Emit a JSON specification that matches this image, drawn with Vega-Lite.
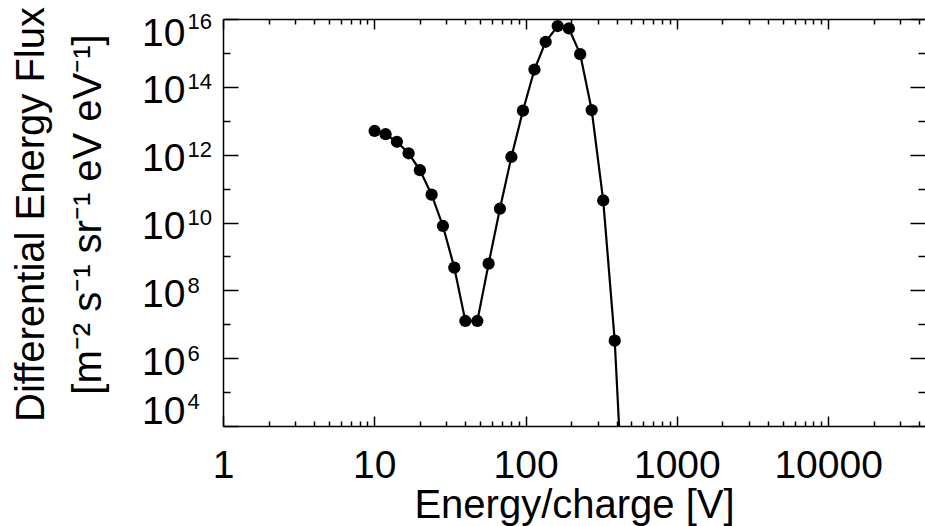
{
  "$schema": "https://vega.github.io/schema/vega-lite/v6.json",
  "autosize": {"type": "none"},
  "padding": {"left": 223, "top": 19, "right": 0, "bottom": 100},
  "width": 702,
  "height": 407,
  "background": "white",
  "config": {
    "view": {"stroke": null},
    "axis": {
      "labelFont": "Liberation Sans",
      "titleFont": "Liberation Sans",
      "labelColor": "black",
      "titleColor": "black",
      "domainColor": "black",
      "tickColor": "black",
      "domainWidth": 1.5,
      "tickWidth": 1.5,
      "grid": false,
      "labelOverlap": false,
      "labelFlush": false,
      "labelBound": false,
      "titleFontWeight": "normal"
    }
  },
  "data": {
    "values": [
      {"E": 10.05, "F": 5.0e12},
      {"E": 11.88, "F": 4.0e12},
      {"E": 14.11, "F": 2.4e12},
      {"E": 16.86, "F": 1.1e12},
      {"E": 20.03, "F": 3.5e11},
      {"E": 23.93, "F": 6.6e10},
      {"E": 28.43, "F": 7.9e9},
      {"E": 33.82, "F": 4.65e8},
      {"E": 39.99, "F": 1.25e7},
      {"E": 48.0, "F": 1.25e7},
      {"E": 57.0, "F": 6.1e8},
      {"E": 67.7, "F": 2.55e10},
      {"E": 80.6, "F": 8.55e11},
      {"E": 96.1, "F": 1.98e13},
      {"E": 114.5, "F": 3.24e14},
      {"E": 135.8, "F": 2.13e15},
      {"E": 163.1, "F": 6.2e15},
      {"E": 193.4, "F": 5.25e15},
      {"E": 229.7, "F": 9.2e14},
      {"E": 273.6, "F": 2.07e13},
      {"E": 326.1, "F": 4.46e10},
      {"E": 388.5, "F": 3.28e6},
      {"E": 462.8, "F": 0.74}
    ]
  },
  "resolve": {"axis": {"x": "independent", "y": "independent"}},
  "layer": [
    {
      "mark": {"type": "line", "color": "black", "strokeWidth": 2.2, "clip": true},
      "encoding": {
        "x": {
          "field": "E", "type": "quantitative",
          "scale": {"type": "log", "domain": [1, 43700], "nice": false, "zero": false},
          "axis": {
            "orient": "bottom",
            "title": "Energy/charge [V]",
            "titleFontSize": 40,
            "titleBaseline": "alphabetic",
            "titleY": 91,
            "values": [1,2,3,4,5,6,7,8,9,10,20,30,40,50,60,70,80,90,100,200,300,400,500,600,700,800,900,1000,2000,3000,4000,5000,6000,7000,8000,9000,10000,20000,30000,40000],
            "labelExpr": "abs(log(datum.value)/LN10 - round(log(datum.value)/LN10)) < 0.001 ? '' + round(datum.value) : ''",
            "labelFontSize": 39,
            "labelPadding": 30,
            "tickSize": {"condition": {"test": "abs(log(datum.value)/LN10 - round(log(datum.value)/LN10)) < 0.001", "value": -10}, "value": -5},
            "domain": true
          }
        },
        "y": {
          "field": "F", "type": "quantitative",
          "scale": {"type": "log", "domain": [1e4, 1e16], "nice": false, "zero": false},
          "axis": {
            "orient": "left",
            "title": ["Differential Energy Flux", "[m⁻² s⁻¹ sr⁻¹ eV eV⁻¹]"],
            "titleFontSize": 40,
            "titleLineHeight": 57,
            "titleAngle": -90,
            "titleBaseline": "alphabetic",
            "titleAlign": "center",
            "titleX": -180,
            "titleY": 195,
            "values": [1e4,1e5,1e6,1e7,1e8,1e9,1e10,1e11,1e12,1e13,1e14,1e15,1e16],
            "labelExpr": "round(log(datum.value)/LN10) % 2 == 0 ? '10' : ''",
            "labelFontSize": 39,
            "labelAlign": "right",
            "labelBaseline": "middle",
            "labelPadding": 53,
            "labelOffset": {"condition": [{"test": "datum.value >= 1e15", "value": 14}, {"test": "datum.value <= 1e5", "value": -15}], "value": 4},
            "tickSize": {"condition": {"test": "round(log(datum.value)/LN10) % 2 == 0", "value": -15}, "value": -7},
            "domain": true
          }
        }
      }
    },
    {
      "mark": {"type": "circle", "color": "black", "size": 150, "opacity": 1, "clip": true},
      "encoding": {
        "x": {
          "field": "E", "type": "quantitative",
          "scale": {"type": "log", "domain": [1, 43700], "nice": false, "zero": false},
          "axis": {
            "orient": "top",
            "title": null,
            "labels": false,
            "values": [1,2,3,4,5,6,7,8,9,10,20,30,40,50,60,70,80,90,100,200,300,400,500,600,700,800,900,1000,2000,3000,4000,5000,6000,7000,8000,9000,10000,20000,30000,40000],
            "tickSize": {"condition": {"test": "abs(log(datum.value)/LN10 - round(log(datum.value)/LN10)) < 0.001", "value": -10}, "value": -5},
            "domain": true
          }
        },
        "y": {
          "field": "F", "type": "quantitative",
          "scale": {"type": "log", "domain": [1e4, 1e16], "nice": false, "zero": false},
          "axis": {
            "orient": "left",
            "title": null,
            "values": [1e4,1e6,1e8,1e10,1e12,1e14,1e16],
            "labelExpr": "'' + round(log(datum.value)/LN10)",
            "labelFontSize": 22,
            "labelAlign": "left",
            "labelBaseline": "middle",
            "labelPadding": 36,
            "labelOffset": {"condition": [{"test": "datum.value >= 1e15", "value": 2}, {"test": "datum.value <= 1e5", "value": -25}], "value": -5},
            "ticks": false,
            "domain": false
          }
        }
      }
    },
    {
      "mark": {"type": "circle", "opacity": 0, "clip": true},
      "encoding": {
        "x": {
          "field": "E", "type": "quantitative",
          "scale": {"type": "log", "domain": [1, 43700], "nice": false, "zero": false},
          "axis": null
        },
        "y": {
          "field": "F", "type": "quantitative",
          "scale": {"type": "log", "domain": [1e4, 1e16], "nice": false, "zero": false},
          "axis": {
            "orient": "right",
            "title": null,
            "labels": false,
            "values": [1e4,1e5,1e6,1e7,1e8,1e9,1e10,1e11,1e12,1e13,1e14,1e15,1e16],
            "tickSize": {"condition": {"test": "round(log(datum.value)/LN10) % 2 == 0", "value": -15}, "value": -7},
            "domain": false
          }
        }
      }
    }
  ]
}
